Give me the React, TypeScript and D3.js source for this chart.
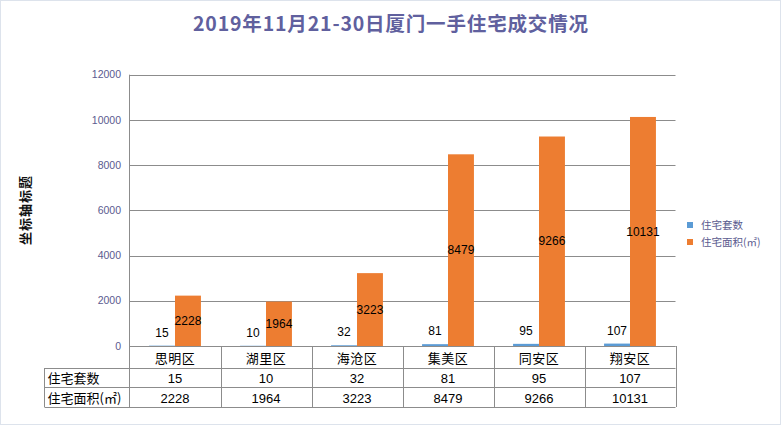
import React from "react";
import * as d3 from "d3";

const categories = ["思明区", "湖里区", "海沧区", "集美区", "同安区", "翔安区"];
const units = [15, 10, 32, 81, 95, 107];
const areas = [2228, 1964, 3223, 8479, 9266, 10131];
const seriesNames = ["住宅套数", "住宅面积(㎡)"];
const tableRowNames = ["住宅套数", "住宅面积(㎡)"];
const yTicks = [0, 2000, 4000, 6000, 8000, 10000, 12000];
const title = "2019年11月21-30日厦门一手住宅成交情况";
const axisTitle = "坐标轴标题";

const W = 781;
const H = 425;
const plotLeft = 129.5;
const plotRight = 675.5;
const plotTop = 74.7;
const plotBottom = 346;
const tableLeft = 44.5;
const rowLines = [346, 368, 387, 407];
const BLUE = "#5b9bd5";
const ORANGE = "#ed7d31";
const GRID = "#8c8c8c";
const CJK = "'Noto Sans CJK SC', 'Liberation Sans', sans-serif";
const NUM = "'Liberation Sans', 'Noto Sans CJK SC', sans-serif";

export default function App() {
  const x = d3.scaleBand<string>().domain(categories).range([plotLeft, plotRight]).paddingInner(0).paddingOuter(0);
  const bw = x.bandwidth();
  const barW = bw * 0.285;
  const y = d3.scaleLinear().domain([0, 12000]).range([plotBottom, plotTop]);
  const rows = [units, areas];

  return (
    <svg width={W} height={H} style={{ position: "absolute", left: 0, top: 0, background: "#fff" }}>
      <rect x={0.5} y={0.5} width={W - 1} height={H - 1} fill="#fff" stroke="#dde3ec" />
      <text x={390.5} y={31} textAnchor="middle" fontFamily={CJK} fontSize={19.5} fontWeight="bold" fill="#60609e" textLength={395} lengthAdjust="spacing">
        {title}
      </text>
      <text transform={`translate(30,${210}) rotate(-90)`} textAnchor="middle" fontFamily={CJK} fontSize={13} fontWeight="bold" fill="#111" letterSpacing={1}>
        {axisTitle}
      </text>
      {yTicks.map((t) => (
        <g key={t}>
          <line x1={plotLeft} x2={plotRight} y1={Math.round(y(t)) + 0.5} y2={Math.round(y(t)) + 0.5} stroke={GRID} strokeWidth={1} />
          <text x={121} y={y(t)} dy="0.35em" textAnchor="end" fontFamily={NUM} fontSize={10.5} fill="#5b5b8f">
            {t}
          </text>
        </g>
      ))}
      {categories.map((c, i) => {
        const x0 = x(c)! + (bw - 2 * barW) / 2;
        const hb = y(0) - y(units[i]);
        const ha = y(0) - y(areas[i]);
        return (
          <g key={c}>
            <rect x={x0} y={y(units[i])} width={barW} height={Math.max(hb, 1)} fill={BLUE} />
            <rect x={x0 + barW} y={y(areas[i])} width={barW} height={ha} fill={ORANGE} />
            <text x={x0 + barW / 2} y={y(units[i]) - 13} dy="0.35em" textAnchor="middle" fontFamily={NUM} fontSize={12} fill="#000">
              {units[i]}
            </text>
            <text x={x0 + barW * 1.5} y={(y(areas[i]) + y(0)) / 2} dy="0.35em" textAnchor="middle" fontFamily={NUM} fontSize={12} fill="#000">
              {areas[i]}
            </text>
          </g>
        );
      })}
      <g stroke={GRID} strokeWidth={1}>
        <line x1={plotLeft} x2={plotLeft} y1={plotTop} y2={rowLines[3]} />
        {categories.map((c) => (
          <line key={c} x1={Math.round(x(c)! + bw) + 0.5} x2={Math.round(x(c)! + bw) + 0.5} y1={rowLines[0]} y2={rowLines[3]} />
        ))}
        <line x1={tableLeft} x2={tableLeft} y1={rowLines[1]} y2={rowLines[3]} />
        <line x1={plotLeft} x2={plotRight} y1={rowLines[0] + 0.5} y2={rowLines[0] + 0.5} />
        {rowLines.slice(1).map((r) => (
          <line key={r} x1={tableLeft} x2={plotRight} y1={r + 0.5} y2={r + 0.5} />
        ))}
      </g>
      {categories.map((c) => (
        <text key={c} x={x(c)! + bw / 2} y={(rowLines[0] + rowLines[1]) / 2 + 1} dy="0.35em" textAnchor="middle" fontFamily={CJK} fontSize={13} fill="#000" letterSpacing={0.5}>
          {c}
        </text>
      ))}
      {rows.map((vals, r) => (
        <g key={r}>
          <text x={tableLeft + 3} y={(rowLines[r + 1] + rowLines[r + 2]) / 2 + 1} dy="0.35em" fontFamily={CJK} fontSize={13} fill="#000">
            {tableRowNames[r]}
          </text>
          {vals.map((v, i) => (
            <text key={i} x={x(categories[i])! + bw / 2} y={(rowLines[r + 1] + rowLines[r + 2]) / 2 + 1} dy="0.35em" textAnchor="middle" fontFamily={NUM} fontSize={13} fill="#000">
              {v}
            </text>
          ))}
        </g>
      ))}
      {seriesNames.map((s, i) => (
        <g key={s}>
          <rect x={687} y={222 + i * 17} width={6} height={6} fill={i === 0 ? BLUE : ORANGE} />
          <text x={701} y={225 + i * 17} dy="0.35em" fontFamily={CJK} fontSize={10.5} fill="#5b5b8f">
            {s}
          </text>
        </g>
      ))}
    </svg>
  );
}
